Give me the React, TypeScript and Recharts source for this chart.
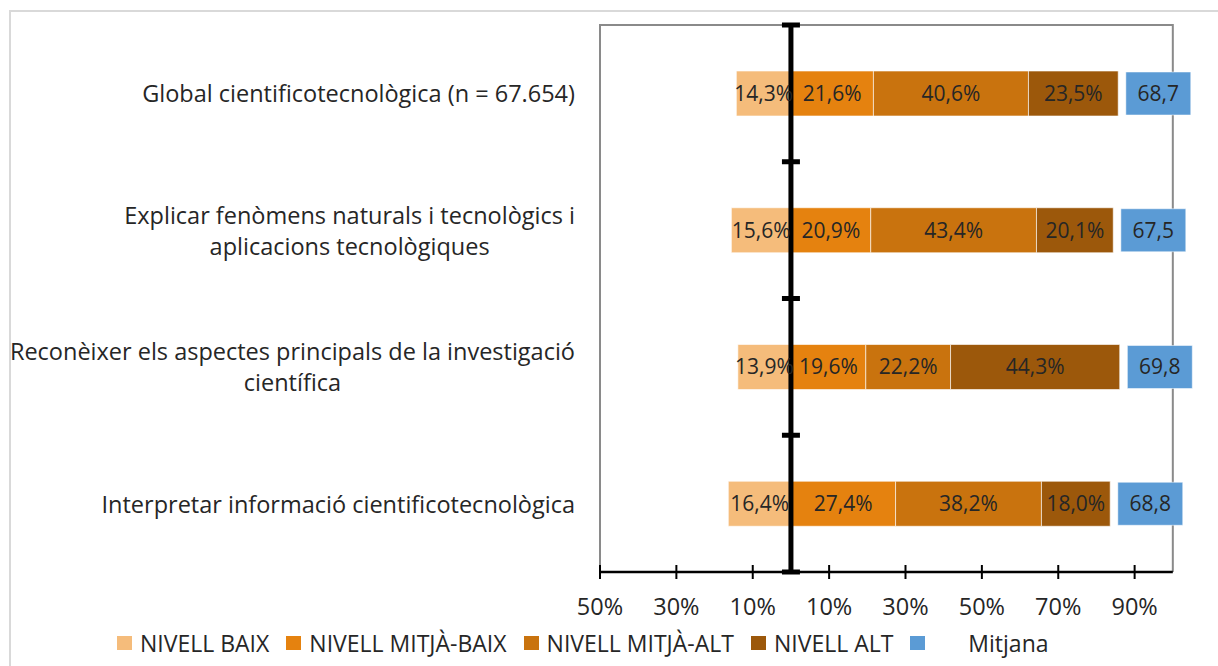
import { BarChart, Bar, XAxis, YAxis, ReferenceLine, ReferenceArea, LabelList, Rectangle } from "recharts";

const categoryLines = [
  ["Global cientificotecnològica (n = 67.654)"],
  ["Explicar fenòmens naturals i tecnològics i", "aplicacions tecnològiques"],
  ["Reconèixer els aspectes principals de la investigació", "científica"],
  ["Interpretar informació cientificotecnològica"],
];
const categories = categoryLines.map((l) => l.join(" "));

const nivellBaix = [14.3, 15.6, 13.9, 16.4];
const nivellMitjaBaix = [21.6, 20.9, 19.6, 27.4];
const nivellMitjaAlt = [40.6, 43.4, 22.2, 38.2];
const nivellAlt = [23.5, 20.1, 44.3, 18.0];
const mitjana = [68.7, 67.5, 69.8, 68.8];

const xTicks = [-50, -30, -10, 10, 30, 50, 70, 90];

// the "Mitjana" box sits after a small gap at the end of each bar
const MITJANA_GAP = 2;
const MITJANA_SPAN = 17;

const FONT = "'Open Sans', sans-serif";
const TEXT = "#262626";

const colors = {
  baix: "#F5BC7B",
  mitjaBaix: "#E5820F",
  mitjaAlt: "#C9730E",
  alt: "#9C580B",
  mitjana: "#5B9BD5",
};

const data = categories.map((name, i) => ({
  name,
  baix: -nivellBaix[i],
  mitjaBaix: nivellMitjaBaix[i],
  mitjaAlt: nivellMitjaAlt[i],
  alt: nivellAlt[i],
  gap: MITJANA_GAP,
  box: MITJANA_SPAN,
  mitjana: mitjana[i],
}));

const legendItems = [
  { label: "NIVELL BAIX", color: colors.baix },
  { label: "NIVELL MITJÀ-BAIX", color: colors.mitjaBaix },
  { label: "NIVELL MITJÀ-ALT", color: colors.mitjaAlt },
  { label: "NIVELL ALT", color: colors.alt },
  { label: "Mitjana", color: colors.mitjana },
];

const comma = (v: number, d = 1) => Math.abs(v).toFixed(d).replace(".", ",");

let ctx: CanvasRenderingContext2D | null = null;
const measure = (s: string, size: number) => {
  if (!ctx) ctx = document.createElement("canvas").getContext("2d");
  if (!ctx) return s.length * size * 0.5;
  ctx.font = `${size}px "Open Sans"`;
  return ctx.measureText(s).width;
};

const CAT_SIZE = 23.5;
const TICK_SIZE = 23.5;
const LEGEND_SIZE = 23;

const CategoryTick = (props: any) => {
  const { x, y, payload } = props;
  const lines = categoryLines[payload.index] ?? [String(payload.value)];
  const right = x - 17;
  const maxW = Math.max(...lines.map((l) => measure(l, CAT_SIZE)));
  const cx = right - maxW / 2;
  return (
    <text fontFamily={FONT} fontSize={CAT_SIZE} fill={TEXT} textAnchor="middle">
      {lines.map((l, i) => (
        <tspan key={i} x={cx} y={y + (i - (lines.length - 1) / 2) * 31} dominantBaseline="central">
          {l}
        </tspan>
      ))}
    </text>
  );
};

const PercentTick = (props: any) => {
  const { x, y, payload } = props;
  return (
    <g>
      <line x1={x} x2={x} y1={y - 7} y2={y + 7} stroke="#000" strokeWidth={2} />
      <text x={x} y={y + 34} textAnchor="middle" dominantBaseline="central" fontFamily={FONT} fontSize={TICK_SIZE} fill={TEXT}>
        {Math.abs(payload.value)}%
      </text>
    </g>
  );
};

const PlotFrame = (props: any) => {
  const { x, y, width, height } = props;
  return (
    <g>
      <path d={`M${x},${y + height} L${x},${y} L${x + width},${y} L${x + width},${y + height}`} fill="none" stroke="#8a8a8a" strokeWidth={2} />
      <line x1={x} x2={x + width} y1={y + height} y2={y + height} stroke="#000" strokeWidth={2.5} />
    </g>
  );
};

const ZeroLine = (props: any) => {
  const { x1, y1, x2, y2 } = props;
  const n = categories.length;
  const marks = Array.from({ length: n + 1 }, (_, i) => y1 + ((y2 - y1) * i) / n);
  return (
    <g>
      <line x1={x1} x2={x2} y1={y1} y2={y2} stroke="#000" strokeWidth={5} />
      {marks.map((m, i) => (
        <line key={i} x1={x1 - 9} x2={x1 + 9} y1={m} y2={m} stroke="#000" strokeWidth={5} />
      ))}
    </g>
  );
};

const MitjanaBox = (props: any) => (
  <Rectangle {...props} y={props.y + 1} height={props.height - 2} />
);

const labelStyle = { fontFamily: FONT, fontSize: 21, fill: TEXT };

export default function App() {
  return (
    <div style={{ position: "absolute", left: 0, top: 0, width: 1218, height: 666, overflow: "hidden", background: "#fff" }}>
      <div style={{ position: "absolute", left: 9, top: 10, width: 1300, height: 800, borderLeft: "2px solid #d9d9d9", borderTop: "2px solid #d9d9d9" }} />
      <BarChart
        width={1218}
        height={666}
        data={data}
        layout="vertical"
        stackOffset="sign"
        margin={{ top: 25, right: 7, left: 0, bottom: 64 }}
        style={{ position: "absolute", left: 0, top: 0 }}
      >
        <XAxis
          type="number"
          domain={[-50, 110]}
          ticks={xTicks}
          axisLine={false}
          tickLine={false}
          tickSize={0}
          tickMargin={0}
          tick={<PercentTick />}
        />
        <YAxis type="category" dataKey="name" width={600} axisLine={false} tickLine={false} tick={<CategoryTick />} />
        <ReferenceArea x1={-50} x2={100} shape={<PlotFrame />} />
        <Bar dataKey="baix" stackId="s" fill={colors.baix} stroke="#fff" strokeOpacity={0.6} barSize={45} isAnimationActive={false}>
          <LabelList dataKey="baix" position="center" formatter={(v: any) => `${comma(v)}%`} style={labelStyle} />
        </Bar>
        <Bar dataKey="mitjaBaix" stackId="s" fill={colors.mitjaBaix} stroke="#fff" strokeOpacity={0.6} barSize={45} isAnimationActive={false}>
          <LabelList dataKey="mitjaBaix" position="center" formatter={(v: any) => `${comma(v)}%`} style={labelStyle} />
        </Bar>
        <Bar dataKey="mitjaAlt" stackId="s" fill={colors.mitjaAlt} stroke="#fff" strokeOpacity={0.6} barSize={45} isAnimationActive={false}>
          <LabelList dataKey="mitjaAlt" position="center" formatter={(v: any) => `${comma(v)}%`} style={labelStyle} />
        </Bar>
        <Bar dataKey="alt" stackId="s" fill={colors.alt} stroke="#fff" strokeOpacity={0.6} barSize={45} isAnimationActive={false}>
          <LabelList dataKey="alt" position="center" formatter={(v: any) => `${comma(v)}%`} style={labelStyle} />
        </Bar>
        <Bar dataKey="gap" stackId="s" fill="transparent" barSize={45} isAnimationActive={false} />
        <Bar dataKey="box" stackId="s" fill={colors.mitjana} stroke="#fff" strokeOpacity={0.5} barSize={45} shape={<MitjanaBox />} isAnimationActive={false}>
          <LabelList dataKey="mitjana" position="center" formatter={(v: any) => comma(v)} style={labelStyle} />
        </Bar>
        <ReferenceLine x={0} shape={<ZeroLine />} />
      </BarChart>
      <div style={{ position: "absolute", left: 117, top: 632, display: "flex", alignItems: "center", height: 22, fontFamily: FONT, fontSize: LEGEND_SIZE, color: TEXT, whiteSpace: "nowrap" }}>
        {legendItems.map((it, i) => (
          <div key={it.label} style={{ display: "flex", alignItems: "center", marginRight: 17 }}>
            <span style={{ display: "inline-block", width: 15, height: 14, background: it.color, marginRight: i === legendItems.length - 1 ? 43 : 8 }} />
            <span>{it.label}</span>
          </div>
        ))}
      </div>
    </div>
  );
}
